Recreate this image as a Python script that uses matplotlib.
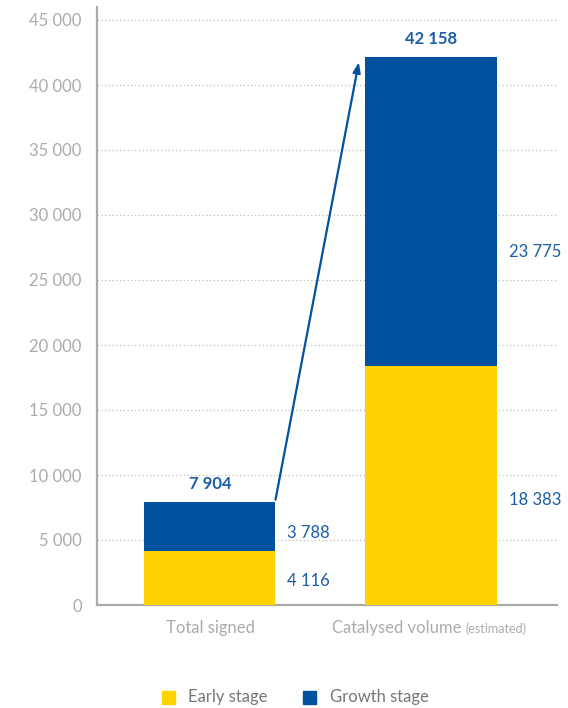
import matplotlib
matplotlib.use("Agg")
import matplotlib.pyplot as plt
from matplotlib.patches import Rectangle

categories = ["Total signed", "Catalysed volume"]
early = [4116, 18383]
growth = [3788, 23775]
totals = [7904, 42158]
yticks = [0, 5000, 10000, 15000, 20000, 25000, 30000, 35000, 40000, 45000]
ytick_labels = ["0", "5 000", "10 000", "15 000", "20 000", "25 000", "30 000", "35 000", "40 000", "45 000"]
legend_labels = ["Early stage", "Growth stage"]

YELLOW = "#FFD200"
BLUE = "#00529F"
TXT_BLUE = "#1C5DA8"
GREY = "#ABABAB"

plt.rcParams['font.family'] = ['Lato', 'DejaVu Sans']

fig = plt.figure(figsize=(5.68, 7.08), dpi=100)
ax = fig.add_axes([97/568, 1-605/708, (557-97)/568, (605-7)/708])

x = list(range(len(categories)))
w = 0.593
ax.bar(x, early, width=w, color=YELLOW, zorder=3)
ax.bar(x, growth, bottom=early, width=w, color=BLUE, zorder=3)

ax.set_xlim(-0.511, 1.57)
ax.set_ylim(0, 46000)

for yv in yticks[1:]:
    ax.axhline(yv, color="#BDBDBD", lw=0.9, ls=(0, (1, 2)), zorder=1)

ax.set_yticks(yticks)
ax.set_yticklabels(ytick_labels, fontsize=12, color=GREY)
ax.tick_params(axis='y', length=0, pad=11)
ax.set_xticks([])
for s in ["top", "right"]:
    ax.spines[s].set_visible(False)
for s in ["left", "bottom"]:
    ax.spines[s].set_color(GREY)
    ax.spines[s].set_linewidth(1.6)

# x labels
ax.annotate(categories[0], xy=(0, 0), xycoords=('data', 'axes fraction'),
            xytext=(0, -23), textcoords='offset pixels', ha='center', va='center',
            fontsize=12, color=GREY)
ax.annotate(categories[1], xy=(1, 0), xycoords=('data', 'axes fraction'),
            xytext=(30, -23), textcoords='offset pixels', ha='right', va='center',
            fontsize=12, color=GREY)
ax.annotate("(estimated)", xy=(1, 0), xycoords=('data', 'axes fraction'),
            xytext=(34, -24), textcoords='offset pixels', ha='left', va='center',
            fontsize=9, color=GREY)

def fmt(v):
    return f"{v:,}".replace(",", " ")

for i in x:
    ax.annotate(fmt(totals[i]), xy=(i, totals[i]), xytext=(0, 10), textcoords='offset pixels',
                ha='center', va='bottom', fontsize=12, fontweight='bold', color=TXT_BLUE)
    ax.annotate(fmt(growth[i]), xy=(i + w/2, early[i] + growth[i]*0.37), xytext=(12, 0),
                textcoords='offset pixels', ha='left', va='center', fontsize=12, color=TXT_BLUE)
    ax.annotate(fmt(early[i]), xy=(i + w/2, early[i]*0.44), xytext=(12, 0),
                textcoords='offset pixels', ha='left', va='center', fontsize=12, color=TXT_BLUE)

# arrow
ax.annotate("", xy=(1 - w/2 - 0.03, totals[1] - 400), xytext=(w/2, totals[0] + 200),
            arrowprops=dict(arrowstyle="-|>,head_length=0.6,head_width=0.22", color=BLUE, lw=1.6,
                            shrinkA=0, shrinkB=0), zorder=4)

# legend
fig.patches.append(Rectangle((162/568, 1-704/708), 13/568, 13/708, transform=fig.transFigure,
                             color=YELLOW, figure=fig))
fig.text(188/568, 1-697/708, legend_labels[0], fontsize=12, color="#777777", va='center', ha='left')
fig.patches.append(Rectangle((303/568, 1-704/708), 13/568, 13/708, transform=fig.transFigure,
                             color=BLUE, figure=fig))
fig.text(330/568, 1-697/708, legend_labels[1], fontsize=12, color="#777777", va='center', ha='left')

fig.savefig("out.png", dpi=100)
